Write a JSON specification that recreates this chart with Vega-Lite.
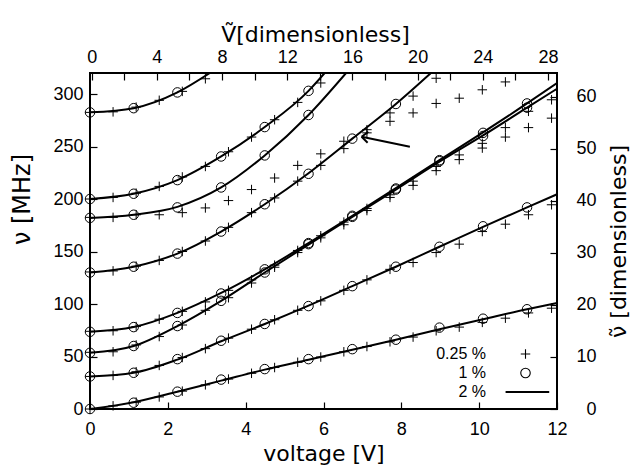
{
  "$schema": "https://vega.github.io/schema/vega-lite/v6.json",
  "width": 467,
  "height": 336,
  "autosize": {"type": "none"},
  "padding": {"left": 90, "top": 73, "right": 83, "bottom": 62},
  "background": "white",
  "config": {
    "view": {"stroke": "black", "strokeWidth": 2},
    "font": "Liberation Sans",
    "axis": {
      "grid": false, "domain": false,
      "labelFont": "Liberation Sans", "titleFont": "DejaVu Sans",
      "labelFontSize": 18, "titleFontSize": 22, "titleFontWeight": "normal",
      "labelColor": "black", "titleColor": "black", "tickColor": "black",
      "tickSize": -7, "tickWidth": 1.2, "labelPadding": 14,
      "labelFlush": false, "labelOverlap": false
    }
  },
  "datasets": {
    "lines": [
      {"c":"A","v":0,"f":0},{"c":"A","v":1.123,"f":6.5},{"c":"A","v":2.246,"f":16.5},{"c":"A","v":3.37,"f":27},{"c":"A","v":4.49,"f":37.5},{"c":"A","v":5.615,"f":47},{"c":"A","v":6.74,"f":56.5},{"c":"A","v":7.86,"f":66},{"c":"A","v":8.98,"f":76},{"c":"A","v":10.1,"f":85.5},{"c":"A","v":11.23,"f":95},{"c":"A","v":12,"f":101},
      {"c":"B","v":0,"f":31},{"c":"B","v":1.123,"f":34.5},{"c":"B","v":2.246,"f":47},{"c":"B","v":3.37,"f":64.5},{"c":"B","v":4.49,"f":81},{"c":"B","v":5.615,"f":98.5},{"c":"B","v":6.74,"f":117},{"c":"B","v":7.86,"f":135.5},{"c":"B","v":8.98,"f":154.5},{"c":"B","v":10.1,"f":173.5},{"c":"B","v":11.23,"f":192},{"c":"B","v":12,"f":204.5},
      {"c":"C","v":0,"f":53.5},{"c":"C","v":1.123,"f":60},{"c":"C","v":2.246,"f":79},{"c":"C","v":3.37,"f":103},{"c":"C","v":4.49,"f":130},{"c":"C","v":5.615,"f":156.5},{"c":"C","v":6.74,"f":183},{"c":"C","v":7.86,"f":209},{"c":"C","v":8.98,"f":235.5},{"c":"C","v":10.1,"f":260.5},{"c":"C","v":11.23,"f":287},{"c":"C","v":12,"f":305},
      {"c":"D","v":0,"f":73.5},{"c":"D","v":1.123,"f":78},{"c":"D","v":2.246,"f":91.5},{"c":"D","v":3.37,"f":110.5},{"c":"D","v":4.49,"f":133},{"c":"D","v":5.615,"f":158},{"c":"D","v":6.74,"f":184},{"c":"D","v":7.86,"f":210.5},{"c":"D","v":8.98,"f":237},{"c":"D","v":10.1,"f":263.5},{"c":"D","v":11.23,"f":291},{"c":"D","v":12,"f":310.5},
      {"c":"E","v":0,"f":130},{"c":"E","v":1.123,"f":135.5},{"c":"E","v":2.246,"f":148},{"c":"E","v":3.37,"f":169},{"c":"E","v":4.49,"f":195},{"c":"E","v":5.615,"f":224.5},{"c":"E","v":6.74,"f":257.5},{"c":"E","v":7.86,"f":290.5},{"c":"E","v":8.76,"f":320},
      {"c":"F","v":0,"f":182},{"c":"F","v":1.123,"f":185},{"c":"F","v":2.246,"f":192.5},{"c":"F","v":3.37,"f":211},{"c":"F","v":4.49,"f":241.5},{"c":"F","v":5.615,"f":280},{"c":"F","v":6.58,"f":320},
      {"c":"G","v":0,"f":200},{"c":"G","v":1.123,"f":205},{"c":"G","v":2.246,"f":218},{"c":"G","v":3.37,"f":240.5},{"c":"G","v":4.49,"f":268.5},{"c":"G","v":5.615,"f":303},{"c":"G","v":6.03,"f":320},
      {"c":"H","v":0,"f":282.5},{"c":"H","v":1.123,"f":286.5},{"c":"H","v":2.246,"f":301.5},{"c":"H","v":3.08,"f":320}
    ],
    "pts": [
      {"r":"0.25 %","v":0,"f":0},{"r":"0.25 %","v":0.593,"f":3},{"r":"0.25 %","v":1.186,"f":6.5},{"r":"0.25 %","v":1.779,"f":11.5},{"r":"0.25 %","v":2.372,"f":17},{"r":"0.25 %","v":2.965,"f":23},{"r":"0.25 %","v":3.558,"f":28.5},{"r":"0.25 %","v":4.151,"f":34},{"r":"0.25 %","v":4.744,"f":39.5},{"r":"0.25 %","v":5.337,"f":44.5},{"r":"0.25 %","v":5.93,"f":49.5},{"r":"0.25 %","v":6.523,"f":54.5},{"r":"0.25 %","v":7.116,"f":59.5},{"r":"0.25 %","v":7.709,"f":64},{"r":"0.25 %","v":8.302,"f":68.5},{"r":"0.25 %","v":8.895,"f":74.5},{"r":"0.25 %","v":9.488,"f":78},{"r":"0.25 %","v":10.081,"f":82.5},{"r":"0.25 %","v":10.674,"f":86.5},{"r":"0.25 %","v":11.267,"f":91.5},{"r":"0.25 %","v":11.86,"f":96},
      {"r":"0.25 %","v":0,"f":31},{"r":"0.25 %","v":0.593,"f":32},{"r":"0.25 %","v":1.186,"f":35.5},{"r":"0.25 %","v":1.779,"f":41.5},{"r":"0.25 %","v":2.372,"f":49},{"r":"0.25 %","v":2.965,"f":57.5},{"r":"0.25 %","v":3.558,"f":67.5},{"r":"0.25 %","v":4.151,"f":76},{"r":"0.25 %","v":4.744,"f":85},{"r":"0.25 %","v":5.337,"f":94},{"r":"0.25 %","v":5.93,"f":103},{"r":"0.25 %","v":6.523,"f":113},{"r":"0.25 %","v":7.116,"f":123},{"r":"0.25 %","v":7.709,"f":133},{"r":"0.25 %","v":8.302,"f":139.5},{"r":"0.25 %","v":8.895,"f":149},{"r":"0.25 %","v":9.488,"f":157},{"r":"0.25 %","v":10.081,"f":169},{"r":"0.25 %","v":10.674,"f":176},{"r":"0.25 %","v":11.267,"f":185},{"r":"0.25 %","v":11.86,"f":194.5},
      {"r":"0.25 %","v":0,"f":54},{"r":"0.25 %","v":0.593,"f":54.5},{"r":"0.25 %","v":1.186,"f":61},{"r":"0.25 %","v":1.779,"f":69},{"r":"0.25 %","v":2.372,"f":80},{"r":"0.25 %","v":2.965,"f":94},{"r":"0.25 %","v":3.558,"f":106},{"r":"0.25 %","v":4.151,"f":120},{"r":"0.25 %","v":4.744,"f":135},{"r":"0.25 %","v":5.337,"f":149},{"r":"0.25 %","v":5.93,"f":163},{"r":"0.25 %","v":6.523,"f":175.5},{"r":"0.25 %","v":7.116,"f":189},{"r":"0.25 %","v":7.709,"f":201.5},{"r":"0.25 %","v":8.302,"f":213},{"r":"0.25 %","v":8.895,"f":227},{"r":"0.25 %","v":9.488,"f":237.5},{"r":"0.25 %","v":10.081,"f":248.5},{"r":"0.25 %","v":10.674,"f":259},{"r":"0.25 %","v":11.267,"f":268},{"r":"0.25 %","v":11.86,"f":277},
      {"r":"0.25 %","v":0,"f":74},{"r":"0.25 %","v":0.593,"f":74.5},{"r":"0.25 %","v":1.186,"f":78.5},{"r":"0.25 %","v":1.779,"f":85.5},{"r":"0.25 %","v":2.372,"f":93},{"r":"0.25 %","v":2.965,"f":102},{"r":"0.25 %","v":3.558,"f":113},{"r":"0.25 %","v":4.151,"f":123},{"r":"0.25 %","v":4.744,"f":137},{"r":"0.25 %","v":5.337,"f":151},{"r":"0.25 %","v":5.93,"f":165},{"r":"0.25 %","v":6.523,"f":178},{"r":"0.25 %","v":7.116,"f":191},{"r":"0.25 %","v":7.709,"f":204},{"r":"0.25 %","v":8.302,"f":217},{"r":"0.25 %","v":8.895,"f":231},{"r":"0.25 %","v":9.488,"f":242},{"r":"0.25 %","v":10.081,"f":253},{"r":"0.25 %","v":10.674,"f":268},{"r":"0.25 %","v":11.267,"f":283.5},{"r":"0.25 %","v":11.86,"f":294.5},
      {"r":"0.25 %","v":0,"f":130.5},{"r":"0.25 %","v":0.593,"f":131.5},{"r":"0.25 %","v":1.186,"f":136},{"r":"0.25 %","v":1.779,"f":141.5},{"r":"0.25 %","v":2.372,"f":150},{"r":"0.25 %","v":2.965,"f":160},{"r":"0.25 %","v":3.558,"f":173},{"r":"0.25 %","v":4.151,"f":187},{"r":"0.25 %","v":4.744,"f":201},{"r":"0.25 %","v":5.337,"f":217},{"r":"0.25 %","v":5.93,"f":232},{"r":"0.25 %","v":6.523,"f":248},{"r":"0.25 %","v":7.116,"f":266},{"r":"0.25 %","v":7.709,"f":282},{"r":"0.25 %","v":8.302,"f":298},{"r":"0.25 %","v":8.895,"f":315},
      {"r":"0.25 %","v":0,"f":182.5},{"r":"0.25 %","v":0.593,"f":182.5},{"r":"0.25 %","v":1.186,"f":185},{"r":"0.25 %","v":1.779,"f":185},{"r":"0.25 %","v":2.372,"f":187},{"r":"0.25 %","v":2.965,"f":191.5},{"r":"0.25 %","v":3.558,"f":198.5},{"r":"0.25 %","v":4.151,"f":209},{"r":"0.25 %","v":4.744,"f":220},{"r":"0.25 %","v":5.337,"f":232},{"r":"0.25 %","v":5.93,"f":243},{"r":"0.25 %","v":6.523,"f":255},{"r":"0.25 %","v":7.116,"f":263},{"r":"0.25 %","v":7.709,"f":274},{"r":"0.25 %","v":8.302,"f":282},{"r":"0.25 %","v":8.895,"f":291},{"r":"0.25 %","v":9.488,"f":296},{"r":"0.25 %","v":10.081,"f":304},{"r":"0.25 %","v":10.674,"f":311.5},
      {"r":"0.25 %","v":0,"f":200},{"r":"0.25 %","v":0.593,"f":201.5},{"r":"0.25 %","v":1.186,"f":205.5},{"r":"0.25 %","v":1.779,"f":212},{"r":"0.25 %","v":2.372,"f":221},{"r":"0.25 %","v":2.965,"f":231},{"r":"0.25 %","v":3.558,"f":245},{"r":"0.25 %","v":4.151,"f":259},{"r":"0.25 %","v":4.744,"f":275.5},{"r":"0.25 %","v":5.337,"f":292},{"r":"0.25 %","v":5.93,"f":310.5},
      {"r":"0.25 %","v":0,"f":282.5},{"r":"0.25 %","v":0.593,"f":283},{"r":"0.25 %","v":1.186,"f":287.5},{"r":"0.25 %","v":1.779,"f":294},{"r":"0.25 %","v":2.372,"f":302.5},{"r":"0.25 %","v":2.965,"f":314.5},
      {"r":"1 %","v":0,"f":0},{"r":"1 %","v":1.123,"f":6},{"r":"1 %","v":2.246,"f":16.5},{"r":"1 %","v":3.37,"f":28},{"r":"1 %","v":4.49,"f":38},{"r":"1 %","v":5.615,"f":47.5},{"r":"1 %","v":6.74,"f":57},{"r":"1 %","v":7.86,"f":66},{"r":"1 %","v":8.98,"f":77.5},{"r":"1 %","v":10.1,"f":86},{"r":"1 %","v":11.23,"f":95},
      {"r":"1 %","v":0,"f":31},{"r":"1 %","v":1.123,"f":34.5},{"r":"1 %","v":2.246,"f":47.5},{"r":"1 %","v":3.37,"f":65},{"r":"1 %","v":4.49,"f":81},{"r":"1 %","v":5.615,"f":98},{"r":"1 %","v":6.74,"f":117},{"r":"1 %","v":7.86,"f":135.5},{"r":"1 %","v":8.98,"f":154.5},{"r":"1 %","v":10.1,"f":174},{"r":"1 %","v":11.23,"f":192},
      {"r":"1 %","v":0,"f":53.5},{"r":"1 %","v":1.123,"f":60},{"r":"1 %","v":2.246,"f":79},{"r":"1 %","v":3.37,"f":103},{"r":"1 %","v":4.49,"f":130},{"r":"1 %","v":5.615,"f":157},{"r":"1 %","v":6.74,"f":183},{"r":"1 %","v":7.86,"f":209},{"r":"1 %","v":8.98,"f":236},{"r":"1 %","v":10.1,"f":260},{"r":"1 %","v":11.23,"f":287},
      {"r":"1 %","v":0,"f":73.5},{"r":"1 %","v":1.123,"f":78},{"r":"1 %","v":2.246,"f":91.5},{"r":"1 %","v":3.37,"f":110},{"r":"1 %","v":4.49,"f":133},{"r":"1 %","v":5.615,"f":158},{"r":"1 %","v":6.74,"f":184},{"r":"1 %","v":7.86,"f":210},{"r":"1 %","v":8.98,"f":237},{"r":"1 %","v":10.1,"f":263},{"r":"1 %","v":11.23,"f":291},
      {"r":"1 %","v":0,"f":130},{"r":"1 %","v":1.123,"f":135.5},{"r":"1 %","v":2.246,"f":148},{"r":"1 %","v":3.37,"f":169},{"r":"1 %","v":4.49,"f":195},{"r":"1 %","v":5.615,"f":224},{"r":"1 %","v":6.74,"f":257.5},{"r":"1 %","v":7.86,"f":290.5},
      {"r":"1 %","v":0,"f":182},{"r":"1 %","v":1.123,"f":185},{"r":"1 %","v":2.246,"f":192},{"r":"1 %","v":3.37,"f":211},{"r":"1 %","v":4.49,"f":241.5},{"r":"1 %","v":5.615,"f":280},
      {"r":"1 %","v":0,"f":200},{"r":"1 %","v":1.123,"f":205},{"r":"1 %","v":2.246,"f":218},{"r":"1 %","v":3.37,"f":240.5},{"r":"1 %","v":4.49,"f":268.5},{"r":"1 %","v":5.615,"f":303},
      {"r":"1 %","v":0,"f":282.5},{"r":"1 %","v":1.123,"f":286.5},{"r":"1 %","v":2.246,"f":301.5}
    ],
    "arrow": [
      {"v":6.98,"f":259.3,"v2":8.22,"f2":249.8},
      {"v":6.98,"f":259.3,"v2":7.152,"f2":264.1},
      {"v":6.98,"f":259.3,"v2":7.134,"f2":253.6}
    ]
  },
  "layer": [
    {
      "encoding": {
        "x": {"field": "v", "type": "quantitative", "scale": {"domain": [0, 12], "nice": false, "zero": false},
              "axis": {"values": [0, 2, 4, 6, 8, 10, 12], "title": "voltage [V]", "labelPadding": 18, "titlePadding": 5}},
        "y": {"field": "f", "type": "quantitative", "scale": {"domain": [0, 320], "nice": false, "zero": false},
              "axis": {"values": [0, 50, 100, 150, 200, 250, 300], "title": "ν [MHz]", "titleFontSize": 24, "titlePadding": 18, "titleY": 126}}
      },
      "layer": [
        {
          "data": {"name": "lines"},
          "mark": {"type": "line", "color": "black", "strokeWidth": 2, "interpolate": "monotone", "clip": true},
          "encoding": {"detail": {"field": "c", "type": "nominal"}}
        },
        {
          "data": {"name": "pts"},
          "mark": {"type": "point", "filled": false, "color": "black", "strokeWidth": 1, "size": 90, "opacity": 1},
          "encoding": {
            "shape": {"field": "r", "type": "nominal",
              "scale": {"domain": ["0.25 %", "1 %", "2 %"], "range": ["M-1,0H1M0,-1V1", "circle", "M-4.2,-0.1H5M-4.2,0.1H5"]},
              "legend": {"title": null, "orient": "none", "legendX": 427.5, "legendY": 273, "direction": "vertical",
                "labelAlign": "right", "labelOffset": -47.5, "labelFont": "Liberation Sans", "labelFontSize": 16, "labelColor": "black",
                "symbolStrokeColor": "black", "symbolStrokeWidth": 1.1, "symbolSize": 90, "symbolOffset": 0, "rowPadding": 3, "padding": 0}}
          }
        },
        {
          "data": {"name": "arrow"},
          "mark": {"type": "rule", "color": "black", "strokeWidth": 2},
          "encoding": {"x2": {"field": "v2"}, "y2": {"field": "f2"}}
        }
      ]
    },
    {
      "data": {"values": [{"a": 0, "b": 0}]},
      "mark": {"type": "point", "opacity": 0},
      "encoding": {
        "x": {"field": "a", "type": "quantitative", "scale": {"domain": [-0.1, 28.55], "nice": false, "zero": false},
              "axis": {"orient": "top", "values": [0, 2, 4, 6, 8, 10, 12, 14, 16, 18, 20, 22, 24, 26, 28],
                       "labelExpr": "datum.value % 4 === 0 ? datum.label : ''", "title": "Ṽ[dimensionless]", "titlePadding": 2, "titleX": 225}},
        "y": {"field": "b", "type": "quantitative", "scale": {"domain": [0, 64.6], "nice": false, "zero": false},
              "axis": {"orient": "right", "values": [0, 10, 20, 30, 40, 50, 60], "labelAlign": "right", "labelPadding": 46, "title": "ν̃ [dimensionless]", "titleAngle": -90, "titleBaseline": "top", "titlePadding": 12}}
      }
    }
  ],
  "resolve": {"scale": {"x": "independent", "y": "independent"}}
}
